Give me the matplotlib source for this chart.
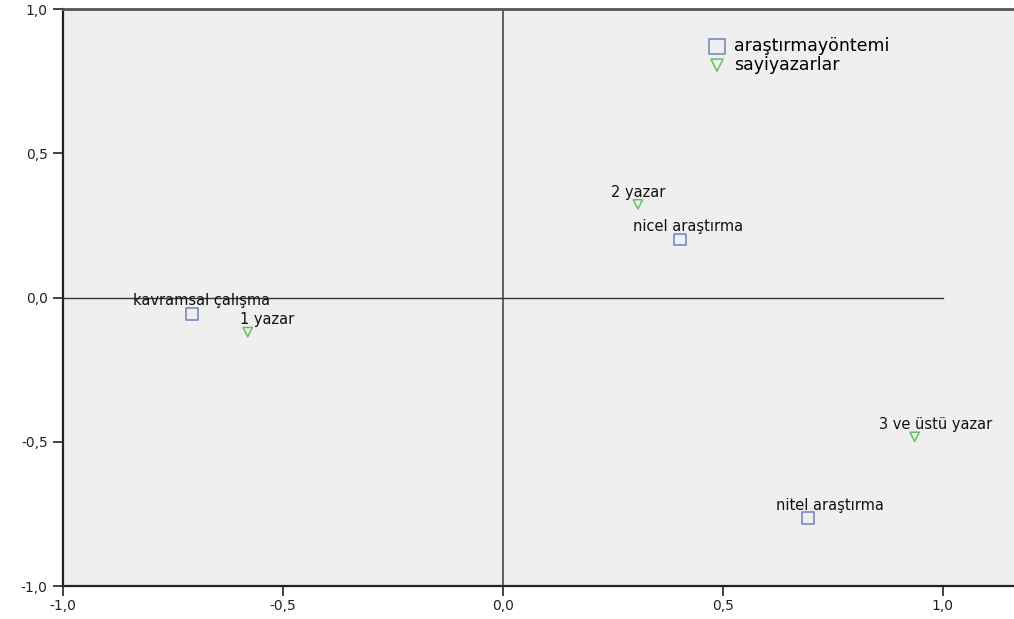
import matplotlib
matplotlib.use("Agg")
import matplotlib.pyplot as plt
from matplotlib.ticker import FuncFormatter

plt.rcParams["font.family"] = ["DejaVu Sans"]

# Row points (araştırma yöntemi)
method_labels = ["kavramsal çalışma", "nicel araştırma", "nitel araştırma"]
method_x = [-0.707, 0.402, 0.693]
method_y = [-0.056, 0.201, -0.764]

# Column points (sayı yazarlar)
author_labels = ["1 yazar", "2 yazar", "3 ve üstü yazar"]
author_x = [-0.580, 0.307, 0.936]
author_y = [-0.120, 0.323, -0.483]

ticks = [-1.0, -0.5, 0.0, 0.5, 1.0]

# label offsets in points (dx, dy) relative to each marker
method_offsets = [(7, 6), (6, 6), (16, 6)]
author_offsets = [(14, 6), (0, 5), (15, 6)]

fig = plt.figure(figsize=(10.14, 6.19), dpi=100)
ax = fig.add_axes([0.0621, 0.0533, 0.9458, 0.932])
ax.set_facecolor("#efefef")
ax.set_xlim(-1.0, 1.18)
ax.set_ylim(-1.0, 1.0)

# reference lines through the origin
ax.axvline(0, color="#555555", lw=1.3, zorder=1)
ax.plot([-1.0, 1.0], [0, 0], color="#333333", lw=1.0, zorder=1)

sq_color = "#6f7fc0"
tri_color = "#62c262"

ax.scatter(method_x, method_y, marker="s", s=70, facecolors="none",
           edgecolors=sq_color, linewidths=1.1, zorder=3,
           label="araştırmayöntemi")
ax.scatter(author_x, author_y, marker="v", s=45, facecolors="none",
           edgecolors=tri_color, linewidths=1.1, zorder=3,
           label="sayiyazarlar")

for lab, x, y, off in zip(method_labels, method_x, method_y, method_offsets):
    ax.annotate(lab, (x, y), xytext=off, textcoords="offset points",
                ha="center", va="baseline", fontsize=10.5, color="#111111")
for lab, x, y, off in zip(author_labels, author_x, author_y, author_offsets):
    ax.annotate(lab, (x, y), xytext=off, textcoords="offset points",
                ha="center", va="baseline", fontsize=10.5, color="#111111")

leg = ax.legend(loc="upper left", bbox_to_anchor=(0.672, 0.951),
                frameon=False, fontsize=12.5, handletextpad=0.45,
                labelspacing=0.02, borderaxespad=0, borderpad=0,
                handlelength=1.1, markerscale=1.3)

fmt = FuncFormatter(lambda v, p: f"{v:.1f}".replace(".", ","))
ax.set_xticks(ticks)
ax.set_yticks(ticks)
ax.xaxis.set_major_formatter(fmt)
ax.yaxis.set_major_formatter(fmt)
ax.tick_params(direction="out", length=7, width=1.2, labelsize=10,
               colors="#222222")
ax.tick_params(axis="y", pad=4)
ax.tick_params(axis="x", pad=2)

for side in ("left", "bottom"):
    ax.spines[side].set_color("#222222")
    ax.spines[side].set_linewidth(1.6)
ax.spines["top"].set_color("#555555")
ax.spines["top"].set_linewidth(2.0)
ax.spines["right"].set_visible(False)

fig.savefig("out.png", dpi=100, facecolor="white")
